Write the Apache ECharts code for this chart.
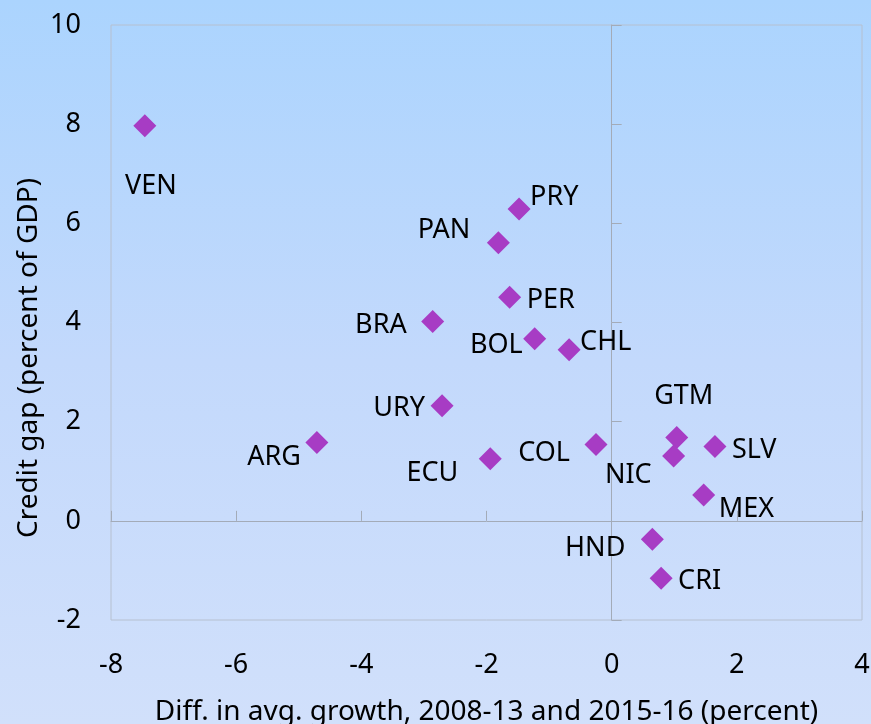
<!DOCTYPE html>
<html lang="en">
<head>
    <meta charset="UTF-8">
    <title>Credit gap vs growth</title>
    <script src="https://cdn.jsdelivr.net/npm/echarts@6/dist/echarts.min.js"></script>
    <style>
        html, body { margin: 0; padding: 0; }
        #main {
            width: 871px; height: 724px;
            background: linear-gradient(to bottom, #abd4fe 0%, #c3d9fc 50%, #d1e0fb 100%);
        }
    </style>
</head>
<body>
<div id="main"></div>
<script>
    // country codes and values
    var codes = ['VEN', 'PRY', 'PAN', 'PER', 'BRA', 'BOL', 'CHL', 'URY', 'ARG',
                 'ECU', 'COL', 'GTM', 'NIC', 'SLV', 'MEX', 'HND', 'CRI'];
    var growthDiff = [-7.46, -1.48, -1.81, -1.63, -2.86, -1.23, -0.68, -2.71, -4.71,
                      -1.94, -0.25, 1.04, 0.99, 1.65, 1.47, 0.65, 0.79];
    var creditGap = [7.97, 6.29, 5.61, 4.51, 4.02, 3.67, 3.45, 2.32, 1.58,
                     1.25, 1.54, 1.68, 1.31, 1.50, 0.52, -0.37, -1.16];
    var xTicks = { min: -8, max: 4, step: 2 };
    var yTicks = { min: -2, max: 10, step: 2 };

    // where each label sits against its marker: [align, dx, dy]
    var labelPlace = {
        VEN: ['center', 6, 59], PRY: ['left', 11, -14], PAN: ['right', -28, -14],
        PER: ['left', 17, 1], BRA: ['right', -26, 2], BOL: ['right', -12, 4],
        CHL: ['left', 11, -9], URY: ['right', -17, 1], ARG: ['right', -16, 13],
        ECU: ['right', -32, 12], COL: ['right', -26, 7], NIC: ['right', -22, 17],
        GTM: ['center', 7, -43], SLV: ['left', 17, 2], MEX: ['left', 15, 12],
        HND: ['right', -27, 7], CRI: ['left', 17, 1]
    };

    var font = 'Noto Sans';
    var fs = 27;
    var titleFs = 28;
    var lineGray = '#a3abb8';

    var points = [];
    for (var i = 0; i < codes.length; i++) {
        var p = labelPlace[codes[i]];
        points.push({
            name: codes[i],
            value: [growthDiff[i], creditGap[i]],
            label: { align: p[0], offset: [p[1], p[2] + 2] }
        });
    }

    var myChart = echarts.init(document.getElementById('main'), null, { renderer: 'canvas' });

    var option = {
        animation: false,
        backgroundColor: 'transparent',
        textStyle: { fontFamily: font },
        grid: {
            left: 111, top: 25, width: 751, height: 595,
            outerBoundsMode: 'none',
            containLabel: false,
            show: true, borderColor: '#b6c0d0', borderWidth: 1,
            backgroundColor: 'transparent'
        },
        xAxis: [{
            type: 'value', position: 'bottom',
            min: xTicks.min, max: xTicks.max, interval: xTicks.step,
            axisLine: { show: false, onZero: false },
            axisTick: { show: false },
            splitLine: { show: false },
            axisLabel: { fontSize: fs, color: '#000', margin: 32, fontFamily: font },
            name: 'Diff. in avg. growth, 2008-13 and 2015-16 (percent)',
            nameLocation: 'middle', nameGap: 78,
            nameTextStyle: { fontSize: titleFs, color: '#000', fontFamily: font }
        }, {
            type: 'value', position: 'bottom',
            min: xTicks.min, max: xTicks.max, interval: xTicks.step,
            axisLine: { show: true, onZero: true, onZeroAxisIndex: 0, lineStyle: { color: lineGray, width: 1 } },
            axisTick: { show: true, inside: true, length: 10, lineStyle: { color: lineGray } },
            axisLabel: { show: false },
            splitLine: { show: false }
        }],
        yAxis: [{
            type: 'value', position: 'left',
            min: yTicks.min, max: yTicks.max, interval: yTicks.step,
            axisLine: { show: false, onZero: false },
            axisTick: { show: false },
            splitLine: { show: false },
            axisLabel: { fontSize: fs, color: '#000', margin: 30, fontFamily: font }
        }, {
            type: 'value', position: 'left',
            min: yTicks.min, max: yTicks.max, interval: yTicks.step,
            axisLine: { show: true, onZero: true, onZeroAxisIndex: 0, lineStyle: { color: lineGray, width: 1 } },
            axisTick: { show: true, inside: true, length: 10, lineStyle: { color: lineGray } },
            axisLabel: { show: false },
            splitLine: { show: false }
        }],
        graphic: [{
            type: 'text',
            x: 29, y: 358,
            rotation: Math.PI / 2,
            style: {
                text: 'Credit gap (percent of GDP)',
                fontSize: titleFs, fontFamily: font, fill: '#000',
                align: 'center', verticalAlign: 'middle'
            }
        }],
        series: [{
            type: 'scatter',
            xAxisIndex: 0, yAxisIndex: 0,
            symbol: 'diamond',
            symbolSize: 23,
            itemStyle: { color: '#a73cc4', opacity: 1 },
            label: {
                show: true,
                position: 'inside',
                verticalAlign: 'middle',
                formatter: '{b}',
                fontSize: fs, fontFamily: font, color: '#000'
            },
            data: points
        }]
    };
    myChart.setOption(option);
</script>
</body>
</html>
